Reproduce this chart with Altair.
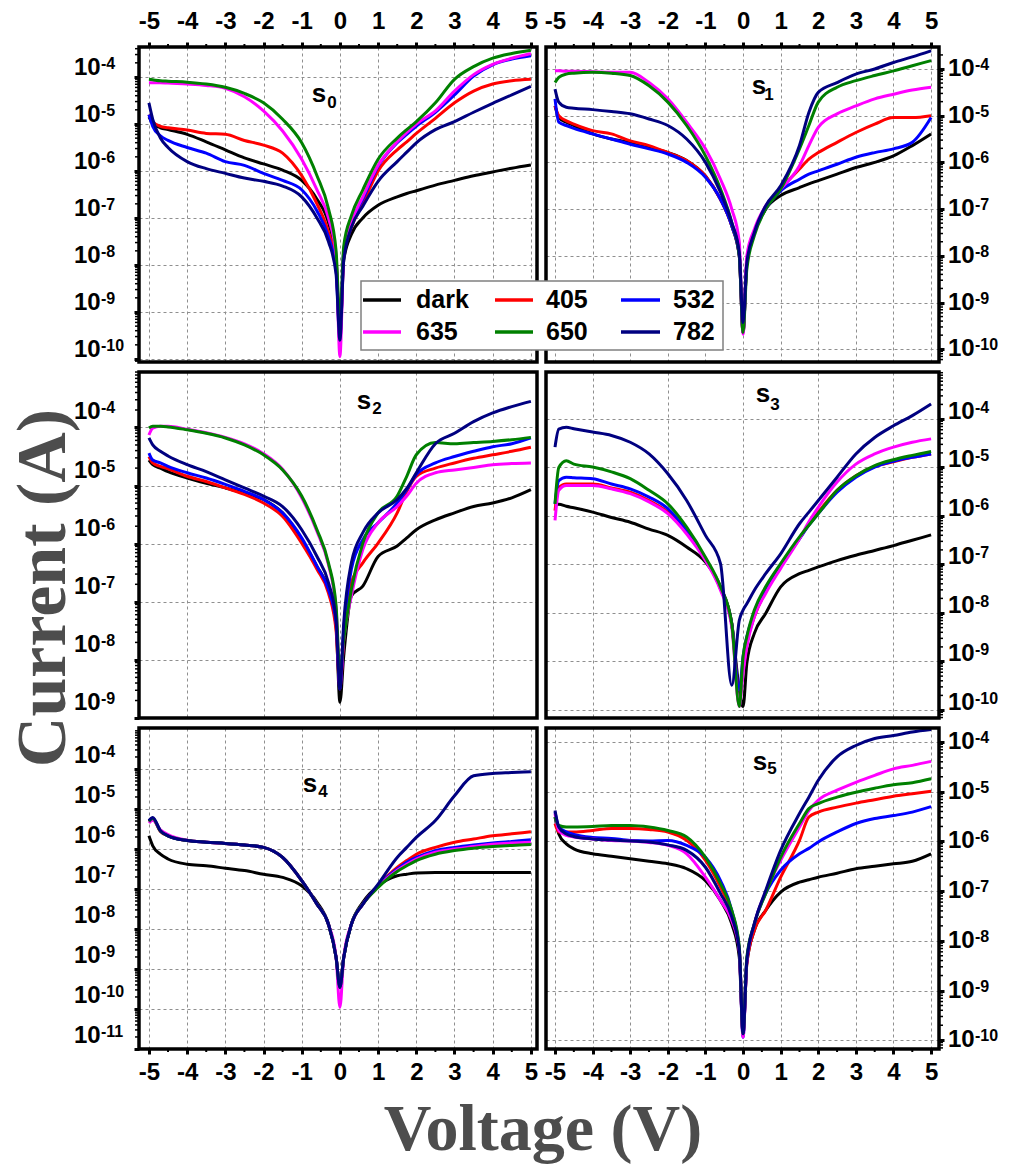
import altair as alt
import pandas as pd

# Voltage sampling points (V)
V = [-5, -4.9, -4.7, -4.5, -4, -3.5, -3, -2.5, -2, -1.5, -1, -0.6, -0.3, -0.1, 0,
     0.1, 0.3, 0.6, 1, 1.5, 1.75, 2, 2.5, 3, 3.5, 4, 4.5, 5]

SERIES = ["dark", "405", "532", "635", "650", "782"]
COLORS = ["#000000", "#ff0000", "#0000ff", "#ff00ff", "#008000", "#000080"]

# log10 of current (A) at the voltages in V
s0_dark = [-4.85, -4.98, -5.08, -5.12, -5.22, -5.38, -5.55, -5.72, -5.85, -5.98, -6.2, -6.6, -7.1, -7.9, -9.5, -7.9, -7.35, -7.0, -6.73, -6.55, -6.48, -6.42, -6.3, -6.2, -6.1, -6.02, -5.94, -5.87]
s0_405 = [-4.8, -4.95, -5.05, -5.08, -5.13, -5.2, -5.22, -5.35, -5.45, -5.62, -6.1, -6.7, -7.3, -8.0, -9.5, -7.8, -7.2, -6.7, -6.0, -5.55, -5.38, -5.2, -4.88, -4.55, -4.3, -4.15, -4.08, -4.05]
s0_532 = [-4.8, -5.05, -5.25, -5.35, -5.5, -5.62, -5.8, -5.88, -6.05, -6.2, -6.4, -6.85, -7.4, -8.1, -9.6, -7.7, -7.1, -6.6, -5.9, -5.4, -5.22, -5.05, -4.75, -4.38, -3.98, -3.74, -3.62, -3.55]
s0_635 = [-4.12, -4.12, -4.12, -4.13, -4.15, -4.18, -4.24, -4.42, -4.72, -5.15, -5.75, -6.4, -7.0, -7.8, -9.95, -7.8, -7.1, -6.55, -5.88, -5.38, -5.18, -5.0, -4.72, -4.3, -3.95, -3.73, -3.6, -3.5]
s0_650 = [-4.05, -4.06, -4.08, -4.09, -4.11, -4.15, -4.22, -4.35, -4.55, -4.9, -5.4, -6.1, -6.8, -7.7, -9.2, -7.6, -6.95, -6.4, -5.75, -5.3, -5.12, -4.95, -4.55, -4.05, -3.78, -3.6, -3.5, -3.43]
s0_782 = [-4.55, -4.9, -5.3, -5.5, -5.8, -5.95, -6.05, -6.15, -6.22, -6.32, -6.55, -7.0, -7.5, -8.2, -9.6, -7.9, -7.2, -6.75, -6.22, -5.8, -5.6, -5.4, -5.12, -4.95, -4.75, -4.56, -4.38, -4.2]

s1_dark = [-4.79, -5.04, -5.14, -5.21, -5.39, -5.5, -5.57, -5.68, -5.79, -5.96, -6.29, -6.79, -7.36, -8.0, -9.64, -8.14, -7.5, -7.0, -6.71, -6.54, -6.46, -6.39, -6.25, -6.11, -6.0, -5.86, -5.64, -5.39]
s1_405 = [-4.79, -5.0, -5.11, -5.18, -5.32, -5.39, -5.54, -5.64, -5.79, -5.96, -6.29, -6.79, -7.36, -8.0, -9.64, -8.14, -7.5, -7.0, -6.57, -6.14, -5.93, -5.79, -5.57, -5.36, -5.18, -5.04, -5.04, -5.0]
s1_532 = [-4.64, -5.14, -5.21, -5.27, -5.39, -5.5, -5.61, -5.71, -5.82, -6.0, -6.32, -6.79, -7.36, -8.0, -9.64, -8.14, -7.5, -7.0, -6.61, -6.36, -6.25, -6.18, -6.04, -5.89, -5.79, -5.71, -5.57, -5.04]
s1_635 = [-4.04, -4.04, -4.05, -4.05, -4.06, -4.07, -4.07, -4.29, -4.64, -5.14, -5.71, -6.36, -7.0, -7.71, -9.68, -8.0, -7.43, -6.93, -6.57, -6.07, -5.64, -5.25, -4.96, -4.79, -4.64, -4.54, -4.45, -4.39]
s1_650 = [-4.29, -4.18, -4.11, -4.09, -4.07, -4.09, -4.14, -4.36, -4.71, -5.21, -5.86, -6.57, -7.29, -8.0, -9.64, -8.29, -7.57, -7.0, -6.57, -5.71, -5.21, -4.71, -4.39, -4.25, -4.14, -4.04, -3.93, -3.82]
s1_782 = [-4.43, -4.71, -4.82, -4.84, -4.87, -4.91, -4.96, -5.07, -5.21, -5.5, -6.0, -6.64, -7.29, -7.93, -9.43, -8.14, -7.5, -6.93, -6.5, -5.64, -4.93, -4.5, -4.29, -4.11, -4.0, -3.86, -3.74, -3.61]

s2_dark = [-4.56, -4.64, -4.7, -4.76, -4.87, -4.96, -5.04, -5.13, -5.24, -5.47, -5.93, -6.39, -6.79, -7.42, -8.73, -7.93, -6.9, -6.73, -6.22, -6.04, -5.9, -5.76, -5.59, -5.47, -5.36, -5.3, -5.21, -5.07]
s2_405 = [-4.5, -4.61, -4.67, -4.71, -4.84, -4.93, -5.04, -5.15, -5.3, -5.53, -5.99, -6.44, -6.85, -7.5, -8.5, -7.65, -6.67, -6.33, -5.99, -5.47, -5.1, -4.84, -4.7, -4.61, -4.53, -4.47, -4.41, -4.34]
s2_532 = [-4.44, -4.56, -4.61, -4.67, -4.78, -4.87, -4.98, -5.1, -5.24, -5.47, -5.9, -6.39, -6.79, -7.36, -8.5, -7.5, -6.44, -5.93, -5.64, -5.3, -5.07, -4.81, -4.61, -4.5, -4.41, -4.33, -4.28, -4.18]
s2_635 = [-4.13, -4.01, -3.98, -3.98, -4.03, -4.09, -4.17, -4.28, -4.45, -4.72, -5.21, -5.79, -6.36, -7.13, -8.42, -7.65, -6.9, -6.1, -5.64, -5.36, -5.18, -4.96, -4.78, -4.73, -4.69, -4.64, -4.62, -4.61]
s2_650 = [-4.01, -3.98, -3.98, -3.99, -4.04, -4.1, -4.18, -4.3, -4.47, -4.73, -5.18, -5.76, -6.33, -7.07, -8.22, -7.65, -6.79, -5.99, -5.47, -5.18, -4.84, -4.47, -4.26, -4.28, -4.26, -4.24, -4.21, -4.17]
s2_782 = [-4.18, -4.3, -4.41, -4.49, -4.64, -4.76, -4.9, -5.04, -5.18, -5.36, -5.76, -6.22, -6.67, -7.3, -8.5, -7.36, -6.33, -5.81, -5.47, -5.24, -5.05, -4.78, -4.28, -4.1, -3.9, -3.75, -3.64, -3.55]

s3_dark = [-5.78, -5.76, -5.8, -5.83, -5.92, -6.03, -6.13, -6.27, -6.4, -6.64, -6.95, -7.46, -8.22, -9.59, -9.93, -9.04, -8.42, -8.01, -7.46, -7.19, -7.12, -7.05, -6.92, -6.81, -6.71, -6.61, -6.5, -6.39]
s3_405 = [-5.89, -5.41, -5.34, -5.34, -5.34, -5.42, -5.51, -5.68, -5.92, -6.33, -6.88, -7.5, -8.22, -9.59, -9.18, -8.63, -8.08, -7.56, -7.02, -6.46, -6.18, -5.92, -5.47, -5.17, -4.98, -4.88, -4.79, -4.72]
s3_532 = [-5.75, -5.27, -5.2, -5.21, -5.23, -5.34, -5.44, -5.61, -5.85, -6.3, -6.88, -7.5, -8.22, -9.59, -8.9, -8.49, -8.01, -7.53, -7.02, -6.47, -6.19, -5.95, -5.51, -5.2, -4.99, -4.87, -4.79, -4.72]
s3_635 = [-6.09, -5.47, -5.37, -5.37, -5.37, -5.44, -5.54, -5.71, -5.95, -6.37, -6.92, -7.53, -8.29, -9.93, -9.25, -8.7, -8.08, -7.6, -7.08, -6.47, -6.12, -5.82, -5.3, -4.93, -4.72, -4.58, -4.48, -4.41]
s3_650 = [-5.75, -5.0, -4.86, -4.93, -4.99, -5.09, -5.23, -5.47, -5.75, -6.23, -6.85, -7.46, -8.22, -9.93, -8.9, -8.49, -7.94, -7.46, -6.98, -6.43, -6.19, -5.95, -5.47, -5.17, -4.96, -4.84, -4.75, -4.67]
s3_782 = [-4.58, -4.21, -4.17, -4.2, -4.27, -4.34, -4.48, -4.72, -5.13, -5.68, -6.4, -6.98, -9.49, -8.15, -7.94, -7.81, -7.53, -7.19, -6.78, -6.16, -5.92, -5.68, -5.2, -4.72, -4.38, -4.14, -3.93, -3.69]

s4_dark = [-5.67, -5.92, -6.13, -6.25, -6.38, -6.42, -6.48, -6.54, -6.63, -6.71, -6.92, -7.33, -7.88, -8.71, -9.46, -8.71, -7.88, -7.33, -6.92, -6.67, -6.63, -6.6, -6.59, -6.59, -6.59, -6.59, -6.59, -6.59]
s4_405 = [-5.32, -5.25, -5.56, -5.67, -5.79, -5.83, -5.86, -5.9, -5.96, -6.21, -6.79, -7.38, -7.88, -8.71, -9.46, -8.71, -7.88, -7.38, -6.92, -6.46, -6.29, -6.13, -5.96, -5.83, -5.75, -5.67, -5.62, -5.57]
s4_532 = [-5.3, -5.23, -5.55, -5.67, -5.79, -5.83, -5.86, -5.9, -5.96, -6.21, -6.79, -7.38, -7.88, -8.71, -9.46, -8.71, -7.88, -7.38, -6.92, -6.5, -6.33, -6.21, -6.04, -5.96, -5.9, -5.85, -5.81, -5.77]
s4_635 = [-5.35, -5.28, -5.52, -5.64, -5.78, -5.83, -5.86, -5.9, -5.96, -6.21, -6.79, -7.38, -7.88, -8.71, -9.96, -8.71, -7.88, -7.38, -6.94, -6.53, -6.38, -6.25, -6.08, -6.0, -5.94, -5.88, -5.85, -5.83]
s4_650 = [-5.31, -5.24, -5.55, -5.67, -5.79, -5.83, -5.86, -5.9, -5.96, -6.21, -6.79, -7.38, -7.88, -8.71, -9.46, -8.71, -7.88, -7.38, -6.96, -6.56, -6.42, -6.29, -6.13, -6.04, -5.98, -5.94, -5.91, -5.89]
s4_782 = [-5.29, -5.21, -5.54, -5.67, -5.79, -5.83, -5.86, -5.9, -5.96, -6.21, -6.79, -7.38, -7.88, -8.71, -9.46, -8.71, -7.88, -7.38, -6.88, -6.21, -5.96, -5.71, -5.29, -4.67, -4.17, -4.11, -4.09, -4.07]

s5_dark = [-5.51, -5.85, -6.05, -6.15, -6.25, -6.3, -6.35, -6.4, -6.45, -6.55, -6.79, -7.19, -7.66, -8.33, -9.87, -8.46, -7.79, -7.39, -7.02, -6.82, -6.77, -6.72, -6.64, -6.55, -6.5, -6.45, -6.4, -6.25]
s5_405 = [-5.64, -5.81, -5.81, -5.81, -5.78, -5.74, -5.74, -5.76, -5.81, -5.98, -6.38, -6.92, -7.46, -8.19, -9.87, -8.46, -7.79, -7.39, -6.72, -5.98, -5.51, -5.41, -5.31, -5.23, -5.16, -5.09, -5.04, -4.99]
s5_532 = [-5.41, -5.71, -5.81, -5.86, -5.92, -5.94, -5.98, -5.99, -5.98, -6.08, -6.32, -6.79, -7.39, -8.19, -9.94, -8.4, -7.66, -7.05, -6.58, -6.25, -6.14, -6.01, -5.81, -5.64, -5.54, -5.48, -5.41, -5.3]
s5_635 = [-5.44, -5.78, -5.88, -5.91, -5.95, -5.98, -5.99, -6.02, -6.08, -6.25, -6.72, -7.19, -7.59, -8.19, -9.94, -8.4, -7.66, -7.02, -6.38, -5.71, -5.38, -5.17, -4.97, -4.81, -4.67, -4.54, -4.47, -4.39]
s5_650 = [-5.51, -5.68, -5.71, -5.71, -5.7, -5.68, -5.68, -5.71, -5.78, -5.91, -6.32, -6.85, -7.39, -8.12, -9.87, -8.33, -7.66, -7.05, -6.32, -5.64, -5.34, -5.24, -5.11, -5.01, -4.93, -4.86, -4.82, -4.74]
s5_782 = [-5.38, -5.71, -5.85, -5.9, -5.95, -5.97, -5.99, -6.01, -6.07, -6.18, -6.52, -7.05, -7.52, -8.19, -9.87, -8.4, -7.66, -6.99, -6.18, -5.44, -5.11, -4.77, -4.3, -4.07, -3.93, -3.87, -3.8, -3.75]

# y-axis decade labels (exponents) shown on each panel
s0_exps = [-4, -5, -6, -7, -8, -9, -10]
s1_exps = [-4, -5, -6, -7, -8, -9, -10]
s2_exps = [-4, -5, -6, -7, -8, -9]
s3_exps = [-4, -5, -6, -7, -8, -9, -10]
s4_exps = [-4, -5, -6, -7, -8, -9, -10, -11]
s5_exps = [-4, -5, -6, -7, -8, -9, -10]

X_TICKS = [-5, -4, -3, -2, -1, 0, 1, 2, 3, 4, 5]
X_MINOR = [-4.5, -3.5, -2.5, -1.5, -0.5, 0.5, 1.5, 2.5, 3.5, 4.5]
X_GRID_MID = [-4, -2, 0, 2, 4]
MINOR_MULT = [2, 3, 4, 5, 6, 7, 8, 9]

FONT = "Liberation Sans"
SERIF = "Liberation Serif"
GRID = "#8f8f8f"
ONE = pd.DataFrame({"k": [0]})

PANELS = [
    dict(sub="0", data=[s0_dark, s0_405, s0_532, s0_635, s0_650, s0_782], exps=s0_exps,
         side="left", row="top", W=398, H=315, xd=(-5.26, 5.16), yd=(-10.064, -3.362),
         ldy=-9, lab=(180, 55, 193, 61)),
    dict(sub="1", data=[s1_dark, s1_405, s1_532, s1_635, s1_650, s1_782], exps=s1_exps,
         side="right", row="top", W=393, H=315, xd=(-5.24, 5.21), yd=(-10.274, -3.529),
         ldy=0, lab=(213, 47, 223, 53)),
    dict(sub="2", data=[s2_dark, s2_405, s2_532, s2_635, s2_650, s2_782], exps=s2_exps,
         side="left", row="mid", W=398, H=346, xd=(-5.26, 5.16), yd=(-9.0, -3.045),
         ldy=-15, lab=(225, 37, 238, 42)),
    dict(sub="3", data=[s3_dark, s3_405, s3_532, s3_635, s3_650, s3_782], exps=s3_exps,
         side="right", row="mid", W=393, H=346, xd=(-5.24, 5.21), yd=(-10.165, -3.031),
         ldy=-7, lab=(217, 30, 229, 38)),
    dict(sub="4", data=[s4_dark, s4_405, s4_532, s4_635, s4_650, s4_782], exps=s4_exps,
         side="left", row="bot", W=398, H=321, xd=(-5.26, 5.16), yd=(-11.0, -2.975),
         ldy=-13, lab=(171, 64, 184, 69)),
    dict(sub="5", data=[s5_dark, s5_405, s5_532, s5_635, s5_650, s5_782], exps=s5_exps,
         side="right", row="bot", W=393, H=321, xd=(-5.24, 5.21), yd=(-10.177, -3.718),
         ldy=0, lab=(214, 42, 226, 46)),
]

LABEL_EXPR = "datum.value < 0 ? '-' + (-datum.value) : '' + datum.value"


def x_axis(row):
    common = dict(domain=False, grid=True, gridDash=[3, 3], gridColor=GRID, gridWidth=1, title=None)
    if row == "mid":
        return alt.Axis(values=X_GRID_MID, labels=False, ticks=False, **common)
    return alt.Axis(orient="top" if row == "top" else "bottom", values=X_TICKS,
                    labelExpr=LABEL_EXPR, labelFont=FONT, labelFontSize=24,
                    labelFontWeight="bold", labelColor="black", labelFlush=False,
                    labelOverlap=False, labelPadding=9 if row == "top" else 6,
                    tickSize=5, tickWidth=3, tickColor="black", **common)


def build_panel(p, idx):
    W, H = p["W"], p["H"]
    lo, hi = p["yd"]
    xs = alt.Scale(domain=list(p["xd"]), nice=False, zero=False)
    ys = alt.Scale(type="log", domain=[10 ** lo, 10 ** hi], nice=False)
    grid_vals = [10.0 ** e for e in p["exps"] if e >= lo - 1e-6]
    yax = alt.Axis(orient=p["side"], values=grid_vals, labels=False, ticks=True, tickSize=5,
                   tickWidth=3, tickColor="black", domain=False, grid=True, gridDash=[3, 3],
                   gridColor=GRID, gridWidth=1, title=None)
    xax = x_axis(p["row"])
    layers = []
    for name, col, vals in zip(SERIES, COLORS, p["data"]):
        df = pd.DataFrame({"V": V, "I": [10.0 ** v for v in vals]})
        layers.append(
            alt.Chart(df).mark_line(color=col, strokeWidth=3, interpolate="monotone", clip=True)
            .encode(x=alt.X("V:Q", scale=xs, axis=xax),
                    y=alt.Y("I:Q", scale=ys, axis=yax))
        )
    # minor ticks on the y side (outside the frame)
    minor_y = [m * 10.0 ** e for e in range(-12, -2) for m in MINOR_MULT
               if 10 ** lo < m * 10.0 ** e < 10 ** hi]
    mdf = pd.DataFrame({"I": minor_y})
    if p["side"] == "left":
        mx1, mx2 = -4, 0
    else:
        mx1, mx2 = W, W + 4
    layers.append(
        alt.Chart(mdf).mark_rule(color="black", strokeWidth=1.5)
        .encode(y=alt.Y("I:Q", scale=ys, axis=yax), x=alt.value(mx1), x2=alt.value(mx2))
    )
    if p["row"] != "mid":
        xdf = pd.DataFrame({"V": X_MINOR})
        my1, my2 = (-3, 0) if p["row"] == "top" else (H, H + 3)
        layers.append(
            alt.Chart(xdf).mark_rule(color="black", strokeWidth=2)
            .encode(x=alt.X("V:Q", scale=xs, axis=xax), y=alt.value(my1), y2=alt.value(my2))
        )
    # frame
    layers.append(
        alt.Chart(ONE).mark_rect(fill="white", fillOpacity=0, stroke="black", strokeWidth=3.5)
        .encode(x=alt.value(0), x2=alt.value(W), y=alt.value(0), y2=alt.value(H))
    )
    # y tick labels: 10 with superscript exponent
    ldf = pd.DataFrame({"I": [10.0 ** e for e in p["exps"]], "exp": [str(e) for e in p["exps"]]})
    x0 = -65 if p["side"] == "left" else W + 9
    layers.append(
        alt.Chart(ldf).mark_text(text="10", align="left", baseline="middle", font=FONT,
                                 fontSize=24, fontWeight="bold", color="black", dy=p["ldy"])
        .encode(x=alt.value(x0), y=alt.Y("I:Q", scale=ys, axis=yax))
    )
    layers.append(
        alt.Chart(ldf).mark_text(align="left", baseline="alphabetic", font=FONT, fontSize=16,
                                 fontWeight="bold", color="black", dx=27, dy=p["ldy"] + 1)
        .encode(x=alt.value(x0), y=alt.Y("I:Q", scale=ys, axis=yax), text="exp:N")
    )
    # panel label s_n
    sx, sy, nx, ny = p["lab"]
    layers.append(
        alt.Chart(ONE).mark_text(text="s", align="center", baseline="alphabetic", font=FONT,
                                 fontSize=26, fontWeight="bold", color="black")
        .encode(x=alt.value(sx), y=alt.value(sy))
    )
    layers.append(
        alt.Chart(ONE).mark_text(text=p["sub"], align="center", baseline="alphabetic", font=FONT,
                                 fontSize=17, fontWeight="bold", color="black")
        .encode(x=alt.value(nx), y=alt.value(ny))
    )
    if idx == 1:
        # legend box spanning the two top panels
        layers.append(
            alt.Chart(ONE).mark_rect(fill="white", stroke="#808080", strokeWidth=1.5)
            .encode(x=alt.value(-185), x2=alt.value(177), y=alt.value(234), y2=alt.value(303))
        )
        cols_x = [(-183, -145, -130), (-51, -13, 0), (75, 114, 127)]
        rows_y = [253, 285]
        for j, (name, col) in enumerate(zip(SERIES, COLORS)):
            r, c = divmod(j, 3)
            lx1, lx2, tx = cols_x[c]
            ly = rows_y[r]
            layers.append(
                alt.Chart(ONE).mark_rule(color=col, strokeWidth=3.5)
                .encode(x=alt.value(lx1), x2=alt.value(lx2), y=alt.value(ly))
            )
            layers.append(
                alt.Chart(ONE).mark_text(text=name, align="left", baseline="middle", font=FONT,
                                         fontSize=25, fontWeight="bold", color="black")
                .encode(x=alt.value(tx), y=alt.value(ly))
            )
    if idx == 2:
        layers.append(
            alt.Chart(ONE).mark_text(text="Current (A)", align="center", baseline="middle",
                                     angle=270, font=SERIF, fontSize=70, fontWeight="bold",
                                     color="#4d4d4d")
            .encode(x=alt.value(-95), y=alt.value(216))
        )
    if idx == 4:
        layers.append(
            alt.Chart(ONE).mark_text(text="Voltage (V)", align="center", baseline="alphabetic",
                                     font=SERIF, fontSize=66, fontWeight="bold", color="#4d4d4d")
            .encode(x=alt.value(404), y=alt.value(422))
        )
    return alt.layer(*layers).properties(width=W, height=H)


panels = [build_panel(p, i) for i, p in enumerate(PANELS)]

chart = alt.concat(
    *panels, columns=2, spacing={"row": 10, "column": 9}, bounds="flush", align="each",
    padding={"left": 0, "top": 0, "right": 0, "bottom": 0}
).configure_view(strokeWidth=0).configure(background="white")

chart.save("out.html", embed_options={"renderer": "svg", "actions": False})
